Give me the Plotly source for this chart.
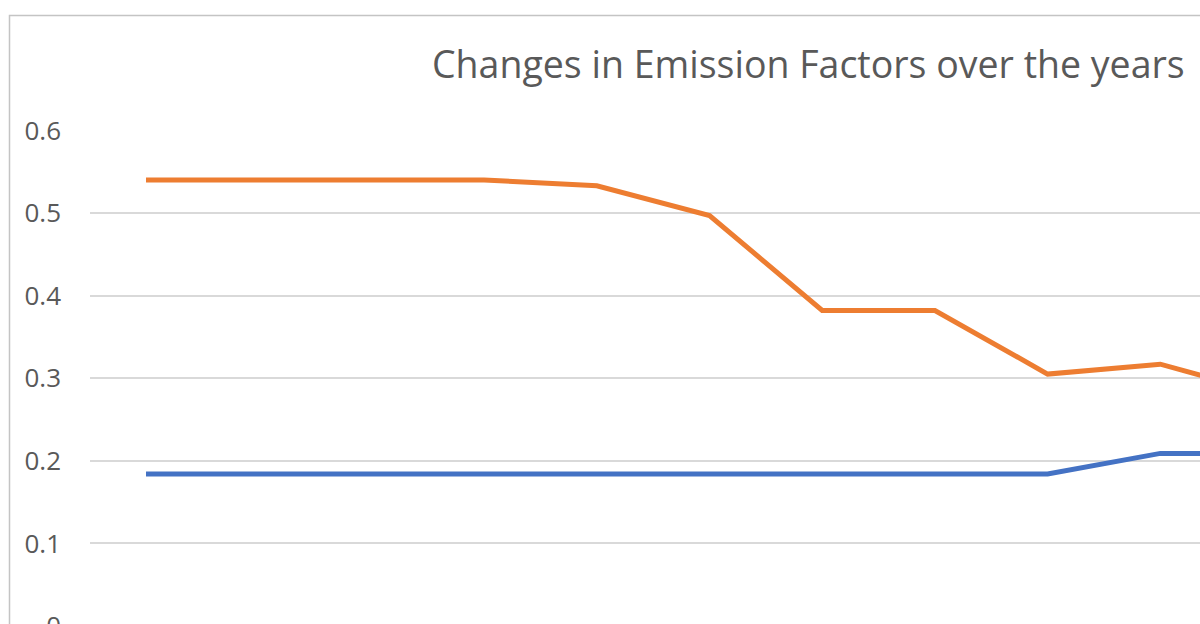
import plotly.graph_objects as go

# Data (chart is cropped on the right and bottom)
years = [2010, 2011, 2012, 2013, 2014, 2015, 2016, 2017, 2018, 2019, 2020]
electricity = [0.540, 0.540, 0.540, 0.540, 0.533, 0.497, 0.382, 0.382, 0.305, 0.317, 0.279]
natural_gas = [0.184, 0.184, 0.184, 0.184, 0.185, 0.184, 0.184, 0.184, 0.184, 0.209, 0.209]
y_ticks = [0, 0.1, 0.2, 0.3, 0.4, 0.5, 0.6]
y_tick_text = ["0", "0.1", "0.2", "0.3", "0.4", "0.5", "0.6"]
title_text = "Changes in Emission Factors over the years"

W, H = 1200, 700          # figure extends below the visible window (cropped chart)
L, T = 90, 130
R, B = 0, 0
plot_w, plot_h = W - L - R, H - T - B
PX_PER_UNIT = 826.0       # vertical pixels per 1.0 on the y axis
y_top = 0.6005
y_bottom = y_top - plot_h / PX_PER_UNIT

fig = go.Figure()
fig.add_trace(go.Scatter(x=years, y=natural_gas, mode="lines", name="Natural Gas",
                         line=dict(color="#4472C4", width=5)))
fig.add_trace(go.Scatter(x=years, y=electricity, mode="lines", name="Electricity",
                         line=dict(color="#ED7D31", width=5)))

def px_x(p):
    return (p - L) / plot_w

def px_y(p):
    return 1 + (T - p) / plot_h

fig.update_layout(
    width=W, height=H, autosize=False,
    margin=dict(l=L, r=R, t=T, b=B, pad=0),
    paper_bgcolor="white", plot_bgcolor="white",
    showlegend=False,
    font=dict(family="Open Sans", color="#595959"),
    xaxis=dict(range=[years[0] - 0.497, years[0] + 9.352], showticklabels=False,
               showgrid=False, zeroline=False, showline=False, ticks=""),
    yaxis=dict(range=[y_bottom, y_top], tickvals=y_ticks, ticktext=y_tick_text,
               showgrid=True, gridcolor="#D9D9D9", gridwidth=1.5, zeroline=False,
               showline=False, ticks="", ticklabelstandoff=28,
               ticklabeloverflow="allow",
               tickfont=dict(family="Open Sans", size=26, color="#595959")),
    annotations=[dict(text=title_text, xref="paper", yref="paper",
                      x=px_x(808), y=px_y(63), xanchor="center", yanchor="middle",
                      showarrow=False,
                      font=dict(family="Open Sans", size=37.5, color="#595959"))],
    shapes=[dict(type="rect", xref="paper", yref="paper",
                 x0=px_x(9.5), x1=px_x(1400), y0=px_y(900), y1=px_y(15.5),
                 line=dict(color="#C4C4C4", width=1.5), fillcolor="rgba(0,0,0,0)",
                 layer="above")],
)

fig.write_html(
    "out.html",
    config={"displayModeBar": False},
    post_script="document.body.style.margin='0';document.body.style.overflow='hidden';"
                "document.documentElement.style.overflow='hidden';",
)
